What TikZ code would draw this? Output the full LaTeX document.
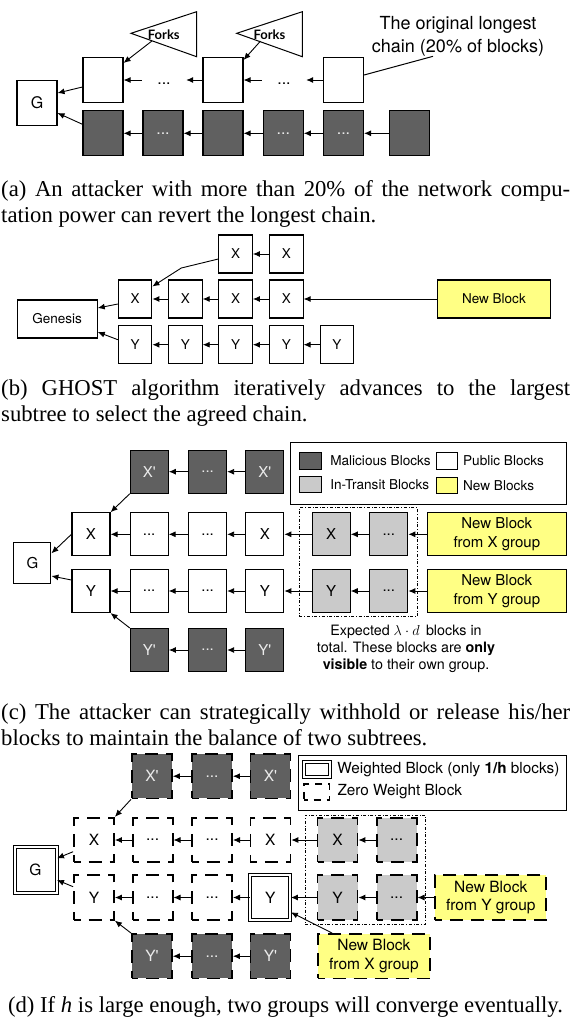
\documentclass[tikz,border=0pt]{standalone}
\usepackage{amsmath}
\usepackage{fontspec}
\setmainfont{Liberation Serif}
\newfontfamily\hv{TeX Gyre Heros}
\newfontfamily\forkfont{Lato}
\usetikzlibrary{arrows.meta,positioning}
\definecolor{malgray}{HTML}{606060}
\definecolor{transgray}{HTML}{CACACA}
\definecolor{newyellow}{HTML}{FFFF84}
\newcommand\blkdots{...}

\begin{document}
\begin{tikzpicture}[x=1pt,y=-1pt]
\tikzset{block/.style = {shape=rectangle,draw,line width=1.1pt,inner sep=0pt}}
\tikzset{mal/.style = {block,fill=malgray,text=white!92!black}}
\tikzset{transit/.style = {block,fill=transgray}}
\tikzset{fresh/.style = {block,fill=newyellow,align=center}}
\tikzset{zero/.style = {line width=1.8pt,dash pattern=on 13pt off 8pt,dash phase=6.5pt}}
\tikzset{weighted/.style = {double,double distance=2pt,line width=1pt}}
\tikzset{gap/.style = {inner sep=0pt,text height=9pt,text depth=0pt}}
\tikzset{edge/.style = {->,> = {Latex[length=7pt,width=6pt]},line width=0.9pt}}
\tikzset{capt/.style = {anchor=base west,inner sep=0pt,text width=569pt,align=justify,
  font=\fontsize{22.7}{26}\selectfont}}
\tikzset{keytext/.style = {inner sep=0pt,font=\hv\fontsize{13.6}{16}\selectfont}}
\useasboundingbox (0,0) rectangle (571,1029);

%% (a) longest chain vs. attacker chain
\tikzset{sa/.style = {minimum width=40pt,minimum height=45pt,font=\hv\fontsize{16}{19}\selectfont}}
% vertices
\node[block,sa] (ag) at (37,103) {G};
\foreach \i/\x in {1/103,2/223,3/343.5}
  \node[block,sa] (at\i) at (\x,80) {};
\node[gap,sa,minimum width=44pt] (ad1) at (164,80) {...};
\node[gap,sa,minimum width=44pt] (ad2) at (284,80) {...};
\foreach \i/\x/\t in {1/103/{},2/163/\blkdots,3/223/{},4/283.3/\blkdots,5/343.5/\blkdots,6/409.7/{}}
  \node[mal,sa] (ab\i) at (\x,133.3) {\t};
\foreach \n/\x in {1/131,2/236.7} {
  \draw[line width=1pt] (\x,33.3) -- (\x+65.6,11.7) -- (\x+65.6,56.7) -- cycle;
  \node[font=\forkfont\bfseries\fontsize{13}{15}\selectfont,inner sep=1pt] (fk\n) at (\x+32.8,35) {Forks};
}
\node[align=center,inner sep=0pt,font=\hv\fontsize{18}{23.3}\selectfont] (orig) at (458,36)
  {The original longest\\chain (20\% of blocks)};
% edges
\draw[edge] (at2) -- (ad1);
\draw[edge] (ad1) -- (at1);
\draw[edge] (at3) -- (ad2);
\draw[edge] (ad2) -- (at2);
\foreach \i/\j in {2/1,3/2,4/3,5/4,6/5}
  \draw[edge] (ab\i) -- (ab\j);
\draw[edge] ([xshift=-12pt]fk1.south) -- ([yshift=-6pt]at1.north east);
\draw[edge] ([xshift=-9pt]fk2.south) -- ([yshift=-3pt]at2.north east);
\draw[edge] ([yshift=-7pt]at1.west) -- ([yshift=10pt]ag.east);
\draw[edge] ([yshift=9pt]ab1.west) -- ([yshift=-10pt]ag.east);
\draw[line width=1pt] ([yshift=5pt]at3.east) -- ([xshift=-25pt]orig.south);
\node[capt] (capa) at (1,196) {(a) An attacker with more than 20\% of the network compu-\linebreak
  tation power can revert the longest chain.};

%% (b) GHOST
\tikzset{sb/.style = {minimum width=33.5pt,minimum height=38pt,font=\hv\fontsize{13.5}{16}\selectfont}}
% vertices
\node[block,sb,minimum width=80pt] (gen) at (57.2,319) {Genesis};
\foreach \i/\x in {1/135.1,2/185.4,3/235.6,4/286.3}
  \node[block,sb] (bx\i) at (\x,299) {X};
\foreach \i/\x in {1/135.1,2/185.4,3/235.6,4/286.3,5/336.9}
  \node[block,sb] (by\i) at (\x,344.7) {Y};
\node[block,sb] (bt1) at (235.6,254) {X};
\node[block,sb] (bt2) at (286.3,254) {X};
\node[fresh,sb,minimum width=113.7pt] (bnew) at (493.9,299) {New Block};
% edges
\foreach \i/\j in {2/1,3/2,4/3}
  \draw[edge] (bx\i) -- (bx\j);
\foreach \i/\j in {2/1,3/2,4/3,5/4}
  \draw[edge] (by\i) -- (by\j);
\draw[edge] (bt2) -- (bt1);
\draw[edge] (bnew) -- (bx4);
\draw[edge] ([yshift=-5pt]bt1.west) -- ++(-37,9) -- ([yshift=-7pt]bx1.north east);
\draw[edge] ([yshift=-5pt]bx1.west) -- ([yshift=11pt]gen.east);
\draw[edge] ([yshift=5pt]by1.west) -- ([yshift=-13pt]gen.east);
\node[capt] (capb) at (1,395) {(b) GHOST algorithm iteratively advances to the largest\linebreak
  subtree to select the agreed chain.};

%% (c) balancing attack
\tikzset{sc/.style = {minimum width=38pt,minimum height=43pt,font=\hv\fontsize{15}{18.5}\selectfont}}
% vertices
\node[block,sc,minimum width=37pt,minimum height=40.6pt] (cg) at (32.4,563) {G};
\foreach \i/\x/\s/\t in {1/91/X/Y,2/149.1/\blkdots/\blkdots,3/207.6/\blkdots/\blkdots,4/264.8/X/Y} {
  \node[block,sc] (cx\i) at (\x,534.3) {\s};
  \node[block,sc] (cy\i) at (\x,591) {\t};
}
\foreach \i/\x/\s/\t in {5/331.2/X/Y,6/388.8/\blkdots/\blkdots} {
  \node[transit,sc] (cx\i) at (\x,534.3) {\s};
  \node[transit,sc] (cy\i) at (\x,591) {\t};
}
\foreach \i/\x/\s/\t in {2/149.3/X'/Y',3/207.6/\blkdots/\blkdots,4/264.8/X'/Y'} {
  \node[mal,sc] (cxp\i) at (\x,471.7) {\s};
  \node[mal,sc] (cyp\i) at (\x,650) {\t};
}
\node[fresh,sc,minimum width=139pt] (cnx) at (496.8,534.3) {New Block\\from X group};
\node[fresh,sc,minimum width=139pt] (cny) at (496.8,591) {New Block\\from Y group};
\node[draw,dash dot,line width=0.8pt,minimum width=117.6pt,minimum height=109pt,inner sep=0pt] (cgrp) at (358.2,562.2) {};
\node[align=center,inner sep=0pt,font=\hv\fontsize{14.3}{17}\selectfont] (cnote) at (406,649)
  {Expected $\lambda\cdot d$\, blocks in\\total. These blocks are \textbf{only}\\\textbf{visible} to their own group.};
% legend
\node[block,line width=1pt,minimum width=276pt,minimum height=62pt] (clg) at (428.3,473.3) {};
\tikzset{keyc/.style = {block,line width=0.9pt,minimum width=21.8pt,minimum height=16.7pt}}
\node[keyc,fill=malgray] (k1) at (310.3,460.7) {};
\node[keytext,right=8.4pt of k1] (k1t) {Malicious Blocks};
\node[keyc] (k2) at (446.9,460.7) {};
\node[keytext,right=4.7pt of k2] (k2t) {Public Blocks};
\node[keyc,fill=transgray] (k3) at (310.3,484.5) {};
\node[keytext,right=8.4pt of k3] (k3t) {In-Transit Blocks};
\node[keyc,fill=newyellow] (k4) at (446.9,485.5) {};
\node[keytext,right=4.7pt of k4] (k4t) {New Blocks};
% edges
\foreach \i/\j in {2/1,3/2,4/3,5/4,6/5} {
  \draw[edge] (cx\i) -- (cx\j);
  \draw[edge] (cy\i) -- (cy\j);
}
\draw[edge] (cnx) -- (cx6);
\draw[edge] (cny) -- (cy6);
\foreach \i/\j in {3/2,4/3} {
  \draw[edge] (cxp\i) -- (cxp\j);
  \draw[edge] (cyp\i) -- (cyp\j);
}
\draw[edge] (cxp2.south west) -- (cx1.north east);
\draw[edge] (cyp2.north west) -- (cy1.south east);
\draw[edge] (cx1.west) -- ([yshift=9.7pt]cg.east);
\draw[edge] ([yshift=11pt]cy1.west) -- ([yshift=-13pt]cg.east);
\node[capt] (capc) at (1,719) {(c) The attacker can strategically withhold or release his/her\linebreak
  blocks to maintain the balance of two subtrees.};

%% (d) weighted blocks
\tikzset{sd/.style = {minimum width=40pt,minimum height=44.5pt,font=\hv\fontsize{15.5}{18.6}\selectfont}}
% vertices
\node[block,sd,weighted,minimum width=42pt,minimum height=46.7pt] (dg) at (35.5,870) {G};
\foreach \i/\x/\s/\t in {1/94/X/Y,2/152.6/\blkdots/\blkdots,3/212.1/\blkdots/\blkdots} {
  \node[block,sd,zero] (dx\i) at (\x,840) {\s};
  \node[block,sd,zero] (dy\i) at (\x,897.5) {\t};
}
\node[block,sd,zero] (dx4) at (270.4,840) {X};
\node[block,sd,weighted] (dy4) at (270.4,897.5) {Y};
\foreach \i/\x/\s/\t in {5/337.5/X/Y,6/396.6/\blkdots/\blkdots} {
  \node[transit,sd,zero] (dx\i) at (\x,840) {\s};
  \node[transit,sd,zero] (dy\i) at (\x,897.5) {\t};
}
\foreach \i/\x/\s/\t in {2/151.9/X'/Y',3/212/\blkdots/\blkdots,4/270.4/X'/Y'} {
  \node[mal,sd,zero] (dxp\i) at (\x,776.2) {\s};
  \node[mal,sd,zero] (dyp\i) at (\x,956.2) {\t};
}
\node[fresh,sd,zero,minimum width=111pt] (dny) at (490.8,897.5) {New Block\\from Y group};
\node[fresh,sd,zero,minimum width=111.8pt] (dnx) at (373.9,956.2) {New Block\\from X group};
\node[draw,dash dot,line width=0.8pt,minimum width=120.2pt,minimum height=109pt,inner sep=0pt] (dgrp) at (365.3,869.5) {};
% legend
\node[block,line width=1pt,minimum width=267.7pt,minimum height=55pt] (dlg) at (432.5,782.5) {};
\node[block,weighted,minimum width=25.5pt,minimum height=14.7pt] (k5) at (316.9,769.3) {};
\node[keytext,font=\hv\fontsize{15.3}{18}\selectfont,right=7pt of k5] (k5t) {Weighted Block (only \textbf{1/h} blocks)};
\node[block,line width=1.5pt,dash pattern=on 7pt off 6pt,dash phase=3.5pt,minimum width=25.5pt,minimum height=15.7pt] (k6) at (316.9,792) {};
\node[keytext,font=\hv\fontsize{15.3}{18}\selectfont,right=7pt of k6] (k6t) {Zero Weight Block};
% edges
\foreach \i/\j in {2/1,3/2,4/3,5/4,6/5} {
  \draw[edge] (dx\i) -- (dx\j);
  \draw[edge] (dy\i) -- (dy\j);
}
\draw[edge] (dny) -- (dy6);
\foreach \i/\j in {3/2,4/3} {
  \draw[edge] (dxp\i) -- (dxp\j);
  \draw[edge] (dyp\i) -- (dyp\j);
}
\draw[edge] (dxp2.south west) -- (dx1.north east);
\draw[edge] (dyp2.north west) -- (dy1.south east);
\draw[edge] ([yshift=-11.7pt]dx1.west) -- ([yshift=11.7pt]dg.east);
\draw[edge] ([yshift=10.8pt]dy1.west) -- ([yshift=-10pt]dg.east);
\draw[edge] ([xshift=15pt]dnx.north west) -- ([yshift=8pt]dy4.south east);
\node[anchor=base,inner sep=0pt,font=\fontsize{22.7}{26}\selectfont] (capd) at (285.5,1012.7)
  {(d) If \textit{h} is large enough, two groups will converge eventually.};
\end{tikzpicture}
\end{document}
